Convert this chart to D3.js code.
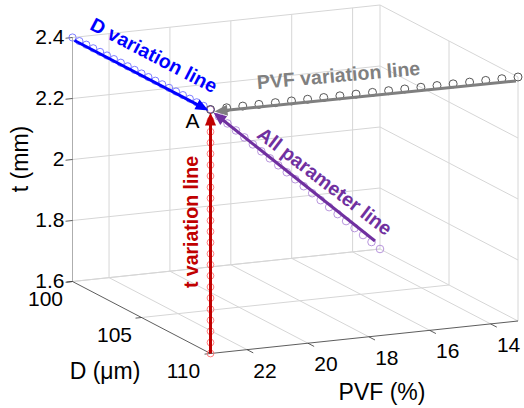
<!DOCTYPE html>
<html>
<head>
<meta charset="utf-8">
<script src="https://cdn.jsdelivr.net/npm/d3@7"></script>
<style>
  body { margin: 0; background: #fff; }
  svg { display: block; font-family: "Liberation Sans", Arial, sans-serif; }
</style>
</head>
<body>
<script>
// axis ranges and ticks
var dDomain = [100, 110],
    pvfDomain = [23.2, 13.1],
    tDomain = [1.6, 2.4];

var dTicks = [100, 105, 110];
var pvfTicks = [22, 20, 18, 16, 14];
var tTicks = [1.6, 1.8, 2.0, 2.2, 2.4];
var tTickLabels = ["1.6", "1.8", "2", "2.2", "2.4"];

// D variation line (PVF = 23.2, t = 2.4)
var dLineD = [100, 100.5, 101, 101.5, 102, 102.5, 103, 103.5, 104, 104.5, 105,
              105.5, 106, 106.5, 107, 107.5, 108, 108.5, 109, 109.5, 110];

// PVF variation line (D = 110, t = 2.4)
var pvfLineP = [23.2, 22.67, 22.14, 21.61, 21.07, 20.54, 20.01, 19.48, 18.95, 18.42,
                17.88, 17.35, 16.82, 16.29, 15.76, 15.23, 14.69, 14.16, 13.63, 13.1];

// t variation line (D = 110, PVF = 23.2)
var tLineT = [1.6, 1.636, 1.673, 1.709, 1.745, 1.782, 1.818, 1.855, 1.891, 1.927, 1.964, 2.0,
              2.036, 2.073, 2.109, 2.145, 2.182, 2.218, 2.255, 2.291, 2.327, 2.364, 2.4];

// all parameter line
var allD = [110, 109.5, 109, 108.5, 108, 107.5, 107, 106.5, 106, 105.5, 105,
            104.5, 104, 103.5, 103, 102.5, 102, 101.5, 101, 100.5, 100];
var allP = [23.2, 22.695, 22.19, 21.685, 21.18, 20.675, 20.17, 19.665, 19.16, 18.655, 18.15,
            17.645, 17.14, 16.635, 16.13, 15.625, 15.12, 14.615, 14.11, 13.605, 13.1];
var allT = [2.4, 2.36, 2.32, 2.28, 2.24, 2.2, 2.16, 2.12, 2.08, 2.04, 2.0,
            1.96, 1.92, 1.88, 1.84, 1.8, 1.76, 1.72, 1.68, 1.64, 1.6];

var width = 524, height = 408;

var svg = d3.select("body").append("svg")
    .attr("width", width)
    .attr("height", height);

// normalised box coordinates
var u = d3.scaleLinear().domain(dDomain).range([0, 1]);
var v = d3.scaleLinear().domain(pvfDomain).range([0, 1]);
var w = d3.scaleLinear().domain(tDomain).range([0, 1]);

// orthographic view: corner (D=100, PVF=max, t=min) and edge vectors
var origin = [72.5, 281.5],
    eD = [138, 72],
    eP = [307.5, -32.5],
    eT = [0, -244];

function proj(D, P, t) {
    var a = u(D), b = v(P), c = w(t);
    return [origin[0] + a * eD[0] + b * eP[0] + c * eT[0],
            origin[1] + a * eD[1] + b * eP[1] + c * eT[1]];
}

var line = d3.line();
var D0 = dDomain[0], D1 = dDomain[1], P0 = pvfDomain[0], P1 = pvfDomain[1], T0 = tDomain[0], T1 = tDomain[1];

// grid
var grid = svg.append("g")
    .attr("fill", "none")
    .attr("stroke", "#d6d6d6")
    .attr("stroke-width", 1);

function seg(g, a, b) {
    g.append("path").attr("d", line([a, b]));
}

tTicks.forEach(function(t) {
    seg(grid, proj(D0, P0, t), proj(D0, P1, t));   // D=100 wall
    seg(grid, proj(D0, P1, t), proj(D1, P1, t));   // PVF=min wall
});
pvfTicks.forEach(function(p) {
    seg(grid, proj(D0, p, T0), proj(D0, p, T1));
    seg(grid, proj(D0, p, T0), proj(D1, p, T0));   // floor
});
dTicks.forEach(function(d) {
    seg(grid, proj(d, P1, T0), proj(d, P1, T1));
    if (d !== D1) seg(grid, proj(d, P0, T0), proj(d, P1, T0));   // floor
});

// axes
var axes = svg.append("g")
    .attr("fill", "none")
    .attr("stroke", "#333")
    .attr("stroke-width", 0.8);

seg(axes, proj(D0, P0, T0), proj(D1, P0, T0));
seg(axes, proj(D1, P0, T0), proj(D1, P1, T0));
axes.append("path")
    .attr("d", line([proj(D0, P0, T0), proj(D0, P0, T1)]))
    .attr("stroke", "#999");

var vDir = [-eP[0], -eP[1]], vLen = Math.hypot(vDir[0], vDir[1]);
var uLen = Math.hypot(eD[0], eD[1]);

tTicks.forEach(function(t) {
    var p = proj(D0, P0, t);
    seg(axes, p, [p[0] + vDir[0] / vLen * 7, p[1] + vDir[1] / vLen * 7]);
});
dTicks.forEach(function(d) {
    var p = proj(d, P0, T0);
    seg(axes, p, [p[0] + vDir[0] / vLen * 6, p[1] + vDir[1] / vLen * 6]);
});
pvfTicks.forEach(function(pv) {
    var p = proj(D1, pv, T0);
    seg(axes, p, [p[0] + eD[0] / uLen * 7, p[1] + eD[1] / uLen * 7]);
});

// tick labels
var labels = svg.append("g")
    .attr("fill", "#000")
    .attr("font-size", 21);

tTicks.forEach(function(t, i) {
    var p = proj(D0, P0, t);
    labels.append("text")
        .attr("x", p[0] - 8).attr("y", p[1] - 1.5)
        .attr("text-anchor", "end")
        .attr("dominant-baseline", "central")
        .text(tTickLabels[i]);
});
dTicks.forEach(function(d) {
    var p = proj(d, P0, T0);
    labels.append("text")
        .attr("x", p[0] - 27).attr("y", p[1] + 16.5)
        .attr("text-anchor", "middle")
        .attr("dominant-baseline", "central")
        .text(d);
});
pvfTicks.forEach(function(pv) {
    var p = proj(D1, pv, T0);
    labels.append("text")
        .attr("x", p[0] + 18).attr("y", p[1] + 20.5)
        .attr("text-anchor", "middle")
        .attr("dominant-baseline", "central")
        .text(pv);
});

// axis titles
labels.append("text")
    .attr("font-size", 23)
    .attr("text-anchor", "middle")
    .attr("dominant-baseline", "central")
    .attr("transform", "translate(20,159) rotate(-90)")
    .text("t (mm)");
labels.append("text")
    .attr("font-size", 23)
    .attr("x", 105).attr("y", 371)
    .attr("text-anchor", "middle")
    .attr("dominant-baseline", "central")
    .text("D (\u03bcm)");
labels.append("text")
    .attr("font-size", 23)
    .attr("x", 382).attr("y", 392)
    .attr("text-anchor", "middle")
    .attr("dominant-baseline", "central")
    .text("PVF (%)");

// markers
function circles(pts, color, r) {
    svg.append("g")
        .attr("fill", "none")
        .attr("stroke", color)
        .attr("stroke-width", 0.9)
        .selectAll("circle")
        .data(pts)
        .join("circle")
        .attr("cx", function(d) { return d[0]; })
        .attr("cy", function(d) { return d[1]; })
        .attr("r", r);
}

var tPts = tLineT.map(function(t) { return proj(D1, P0, t); });
var dPts = dLineD.map(function(d) { return proj(d, P0, T1); });
var allPts = allD.map(function(d, i) { return proj(d, allP[i], allT[i]); });
var pvfPts = pvfLineP.map(function(p) { return proj(D1, p, T1); });

circles(tPts, "#ff7070", 3.4);
circles(dPts, "#7070ff", 3.6);
circles(allPts, "#b08ad8", 3.8);
circles(pvfPts, "#444", 4);

// arrows
function arrow(from, to, color) {
    var dx = to[0] - from[0], dy = to[1] - from[1], len = Math.hypot(dx, dy);
    var ux = dx / len, uy = dy / len;
    var hl = 13, hw = 5.5;
    var bx = to[0] - ux * hl, by = to[1] - uy * hl;
    svg.append("path")
        .attr("d", line([from, [bx + ux, by + uy]]))
        .attr("stroke", color)
        .attr("stroke-width", 3)
        .attr("fill", "none");
    svg.append("path")
        .attr("d", line([to, [bx - uy * hw, by + ux * hw], [bx + uy * hw, by - ux * hw]]) + "Z")
        .attr("fill", color);
}

function off(p, dx, dy) { return [p[0] + dx, p[1] + dy]; }

var A = proj(D1, P0, T1);
arrow(off(dPts[0], 2, 3), off(A, -2, 1), "#0000ff");
arrow(off(pvfPts[pvfPts.length - 1], -2, 4), off(A, 4, 2), "#7f7f7f");
arrow(off(tPts[0], 0, 0), off(A, 0, 3), "#c00000");
arrow(off(allPts[allPts.length - 1], -5, -8), off(A, 3, 3), "#7030a0");

// annotations
var notes = svg.append("g")
    .attr("font-size", 19.5)
    .attr("font-weight", "bold")
    .attr("text-anchor", "middle")
    .attr("dominant-baseline", "central");

function note(txt, cx, cy, angle, color) {
    notes.append("text")
        .attr("transform", "translate(" + cx + "," + cy + ") rotate(" + angle + ")")
        .attr("fill", color)
        .text(txt);
}

note("D variation line", 154, 55, 27.5, "#0000ff");
note("PVF variation line", 338.5, 75, -5, "#808080");
note("All parameter line", 325, 181, 37.5, "#7030a0");
note("t variation line", 191, 222, -90, "#c00000");

svg.append("text")
    .attr("x", A[0] - 18).attr("y", A[1] + 11)
    .attr("font-size", 21)
    .attr("text-anchor", "middle")
    .attr("dominant-baseline", "central")
    .text("A");
</script>
</body>
</html>
